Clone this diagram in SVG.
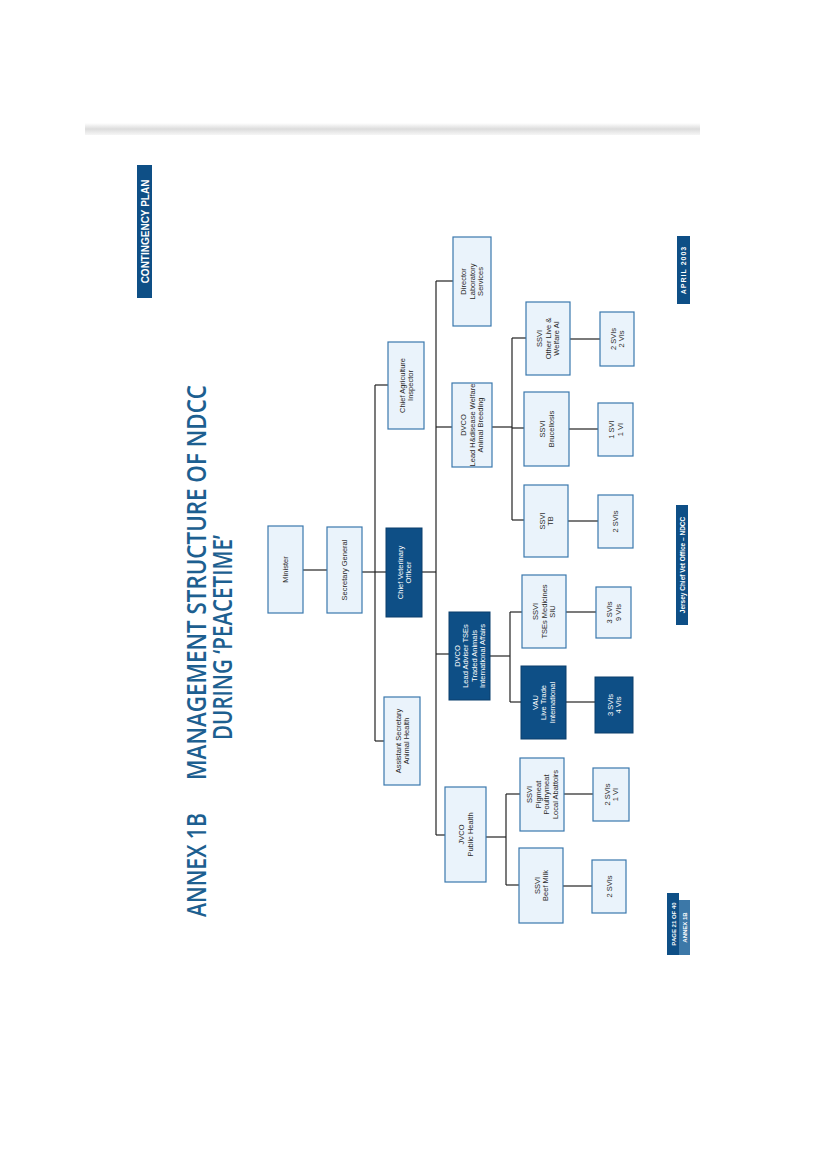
<svg xmlns="http://www.w3.org/2000/svg" width="826" height="1169" viewBox="0 0 826 1169">
<defs>
<linearGradient id="edge" x1="0" y1="0" x2="0" y2="1">
<stop offset="0" stop-color="#ffffff"/>
<stop offset="0.5" stop-color="#dcdcdc"/>
<stop offset="1" stop-color="#f6f6f6"/>
</linearGradient>
</defs>
<style>
.box{fill:#eaf3fb;stroke:#3a78ad;stroke-width:1.2}
.dark{fill:#0e4f86;stroke:#0a3f6c;stroke-width:1}
.t{font-family:"Liberation Sans",Arial,sans-serif;font-size:7.5px;fill:#2a2a2a;text-anchor:middle}
.tw{font-family:"Liberation Sans",Arial,sans-serif;font-size:7.5px;fill:#ffffff;text-anchor:middle}
.ln{stroke:#222;stroke-width:1.2;fill:none}
.title{font-family:"Open Sans","Liberation Sans",sans-serif;font-size:27px;font-weight:600;fill:#1d5f90}
.lab{font-family:"Liberation Sans",Arial,sans-serif;font-weight:bold;fill:#ffffff}
</style>
<rect width="826" height="1169" fill="#ffffff"/>
<rect x="85" y="123" width="615" height="12" fill="url(#edge)"/>

<g id="header">
<rect x="137" y="165" width="15" height="133" fill="#0e4f86"/>
<text class="lab" font-size="10" transform="translate(148.5,231.5) rotate(-90)" text-anchor="middle">CONTINGENCY PLAN</text>
</g>

<g id="title">
<text class="title" transform="translate(206,917) rotate(-90)" textLength="104" lengthAdjust="spacingAndGlyphs">ANNEX 1B</text>
<text class="title" transform="translate(206,780) rotate(-90)" textLength="395" lengthAdjust="spacingAndGlyphs">MANAGEMENT STRUCTURE OF NDCC</text>
<text class="title" transform="translate(232,740) rotate(-90)" textLength="205" lengthAdjust="spacingAndGlyphs">DURING ‘PEACETIME’</text>
</g>

<g id="connectors">
<line class="ln" x1="303" y1="570" x2="327" y2="570"/>
<line class="ln" x1="362" y1="572" x2="386" y2="572"/>
<line class="ln" x1="375" y1="385" x2="375" y2="741"/>
<line class="ln" x1="375" y1="385" x2="388" y2="385"/>
<line class="ln" x1="375" y1="741" x2="384" y2="741"/>
<line class="ln" x1="422" y1="572" x2="436" y2="572"/>
<line class="ln" x1="436" y1="281" x2="436" y2="835"/>
<line class="ln" x1="436" y1="281" x2="453" y2="281"/>
<line class="ln" x1="436" y1="427" x2="452" y2="427"/>
<line class="ln" x1="436" y1="654" x2="449" y2="654"/>
<line class="ln" x1="436" y1="835" x2="445" y2="835"/>
<line class="ln" x1="492" y1="427" x2="512" y2="427"/>
<line class="ln" x1="512" y1="338" x2="512" y2="520"/>
<line class="ln" x1="512" y1="338" x2="526" y2="338"/>
<line class="ln" x1="512" y1="428" x2="524" y2="428"/>
<line class="ln" x1="512" y1="520" x2="524" y2="520"/>
<line class="ln" x1="490" y1="656" x2="510" y2="656"/>
<line class="ln" x1="510" y1="612" x2="510" y2="702"/>
<line class="ln" x1="510" y1="612" x2="522" y2="612"/>
<line class="ln" x1="510" y1="702" x2="521" y2="702"/>
<line class="ln" x1="486" y1="837" x2="506" y2="837"/>
<line class="ln" x1="506" y1="794" x2="506" y2="885"/>
<line class="ln" x1="506" y1="794" x2="520" y2="794"/>
<line class="ln" x1="506" y1="885" x2="519" y2="885"/>
<line class="ln" x1="570" y1="339" x2="600" y2="339"/>
<line class="ln" x1="569" y1="429" x2="598" y2="429"/>
<line class="ln" x1="568" y1="521" x2="598" y2="521"/>
<line class="ln" x1="566" y1="612" x2="596" y2="612"/>
<line class="ln" x1="566" y1="702" x2="595" y2="702"/>
<line class="ln" x1="564" y1="794" x2="593" y2="794"/>
<line class="ln" x1="563" y1="886" x2="592" y2="886"/>
</g>

<g id="minister"><rect class="box" x="268" y="526" width="35" height="87"/>
<text class="t" transform="translate(285.5,569.5) rotate(-90)"><tspan x="0" y="2.7">Minister</tspan></text></g>

<g id="secgen"><rect class="box" x="327" y="527" width="35" height="86"/>
<text class="t" transform="translate(344.5,570) rotate(-90)"><tspan x="0" y="2.7">Secretary General</tspan></text></g>

<g id="cvo"><rect class="dark" x="386" y="528" width="36" height="89"/>
<text class="tw" transform="translate(404,572.5) rotate(-90)"><tspan x="0" y="-1.5">Chief Veterinary</tspan><tspan x="0" y="7">Officer</tspan></text></g>

<g id="cai"><rect class="box" x="388" y="342" width="36" height="87"/>
<text class="t" transform="translate(406,385.5) rotate(-90)"><tspan x="0" y="-1.5">Chief Agriculture</tspan><tspan x="0" y="7">Inspector</tspan></text></g>

<g id="asah"><rect class="box" x="384" y="697" width="36" height="88"/>
<text class="t" transform="translate(402,741) rotate(-90)"><tspan x="0" y="-1.5">Assistant Secretary</tspan><tspan x="0" y="7">Animal Health</tspan></text></g>

<g id="dls"><rect class="box" x="453" y="237" width="38" height="89"/>
<text class="t" transform="translate(472,281.5) rotate(-90)"><tspan x="0" y="-5.8">Director</tspan><tspan x="0" y="2.7">Laboratory</tspan><tspan x="0" y="11.2">Services</tspan></text></g>

<g id="dvco1"><rect class="box" x="452" y="383" width="40" height="84"/>
<text class="t" transform="translate(472,425) rotate(-90)"><tspan x="0" y="-5.8">DVCO</tspan><tspan x="0" y="2.7">Lead H&amp;disease Welfare</tspan><tspan x="0" y="11.2">Animal Breeding</tspan></text></g>

<g id="dvco2"><rect class="dark" x="449" y="612" width="41" height="88"/>
<text class="tw" transform="translate(469.5,656) rotate(-90)"><tspan x="0" y="-10">DVCO</tspan><tspan x="0" y="-1.5">Lead Adviser TSEs</tspan><tspan x="0" y="7">Traded Animals</tspan><tspan x="0" y="15.5">International Affairs</tspan></text></g>

<g id="jvco"><rect class="box" x="445" y="787" width="41" height="95"/>
<text class="t" transform="translate(465.5,834.5) rotate(-90)"><tspan x="0" y="-1.5">JVCO</tspan><tspan x="0" y="7">Public Health</tspan></text></g>

<g id="ssvi-other"><rect class="box" x="526" y="302" width="44" height="73"/>
<text class="t" transform="translate(548,338.5) rotate(-90)"><tspan x="0" y="-5.8">SSVI</tspan><tspan x="0" y="2.7">Other Live &amp;</tspan><tspan x="0" y="11.2">Welfare AI</tspan></text></g>

<g id="ssvi-bruc"><rect class="box" x="524" y="392" width="45" height="74"/>
<text class="t" transform="translate(546.5,429) rotate(-90)"><tspan x="0" y="-1.5">SSVI</tspan><tspan x="0" y="7">Brucellosis</tspan></text></g>

<g id="ssvi-tb"><rect class="box" x="524" y="485" width="44" height="72"/>
<text class="t" transform="translate(546,521) rotate(-90)"><tspan x="0" y="-1.5">SSVI</tspan><tspan x="0" y="7">TB</tspan></text></g>

<g id="ssvi-tse"><rect class="box" x="522" y="575" width="44" height="73"/>
<text class="t" transform="translate(544,611.5) rotate(-90)"><tspan x="0" y="-5.8">SSVI</tspan><tspan x="0" y="2.7">TSEs Medicines</tspan><tspan x="0" y="11.2">SIU</tspan></text></g>

<g id="vau"><rect class="dark" x="521" y="666" width="45" height="73"/>
<text class="tw" transform="translate(543.5,702.5) rotate(-90)"><tspan x="0" y="-5.8">VAU</tspan><tspan x="0" y="2.7">Live Trade</tspan><tspan x="0" y="11.2">International</tspan></text></g>

<g id="ssvi-pig"><rect class="box" x="520" y="758" width="44" height="73"/>
<text class="t" transform="translate(542,794.5) rotate(-90)"><tspan x="0" y="-10">SSVI</tspan><tspan x="0" y="-1.5">Pigmeat</tspan><tspan x="0" y="7">Poultrymeat</tspan><tspan x="0" y="15.5">Local Abattoirs</tspan></text></g>

<g id="ssvi-beef"><rect class="box" x="519" y="848" width="44" height="75"/>
<text class="t" transform="translate(541,885.5) rotate(-90)"><tspan x="0" y="-1.5">SSVI</tspan><tspan x="0" y="7">Beef Milk</tspan></text></g>

<g id="staff-other"><rect class="box" x="600" y="312" width="34" height="54"/>
<text class="t" transform="translate(617,339) rotate(-90)"><tspan x="0" y="-1.5">2 SVIs</tspan><tspan x="0" y="7">2 VIs</tspan></text></g>

<g id="staff-bruc"><rect class="box" x="598" y="403" width="35" height="53"/>
<text class="t" transform="translate(615.5,429.5) rotate(-90)"><tspan x="0" y="-1.5">1 SVI</tspan><tspan x="0" y="7">1 VI</tspan></text></g>

<g id="staff-tb"><rect class="box" x="598" y="495" width="35" height="53"/>
<text class="t" transform="translate(615.5,521.5) rotate(-90)"><tspan x="0" y="2.7">2 SVIs</tspan></text></g>

<g id="staff-tse"><rect class="box" x="596" y="587" width="35" height="51"/>
<text class="t" transform="translate(613.5,612.5) rotate(-90)"><tspan x="0" y="-1.5">3 SVIs</tspan><tspan x="0" y="7">9 VIs</tspan></text></g>

<g id="staff-vau"><rect class="dark" x="595" y="677" width="38" height="56"/>
<text class="tw" transform="translate(614,705) rotate(-90)"><tspan x="0" y="-1.5">3 SVIs</tspan><tspan x="0" y="7">4 VIs</tspan></text></g>

<g id="staff-pig"><rect class="box" x="593" y="768" width="36" height="53"/>
<text class="t" transform="translate(611,794.5) rotate(-90)"><tspan x="0" y="-1.5">2 SVIs</tspan><tspan x="0" y="7">1 VI</tspan></text></g>

<g id="staff-beef"><rect class="box" x="592" y="860" width="34" height="53"/>
<text class="t" transform="translate(609,886.5) rotate(-90)"><tspan x="0" y="2.7">2 SVIs</tspan></text></g>

<g id="footer">
<rect x="667" y="893" width="12" height="62" fill="#0e4f86"/>
<text class="lab" font-size="6" transform="translate(675.5,924) rotate(-90)" text-anchor="middle">PAGE 21 OF 40</text>
<rect x="679" y="900" width="11" height="55" fill="#3c78a8"/>
<text class="lab" font-size="6" transform="translate(687,927.5) rotate(-90)" text-anchor="middle">ANNEX 1B</text>
<rect x="676" y="505" width="12" height="120" fill="#0e4f86"/>
<text class="lab" font-size="6.5" font-weight="normal" transform="translate(684.5,565) rotate(-90)" text-anchor="middle">Jersey Chief Vet Office – NDCC</text>
<rect x="677" y="236" width="13" height="68" fill="#0e4f86"/>
<text class="lab" font-size="7" transform="translate(686,270) rotate(-90)" text-anchor="middle" letter-spacing="1">APRIL 2003</text>
</g>
</svg>
